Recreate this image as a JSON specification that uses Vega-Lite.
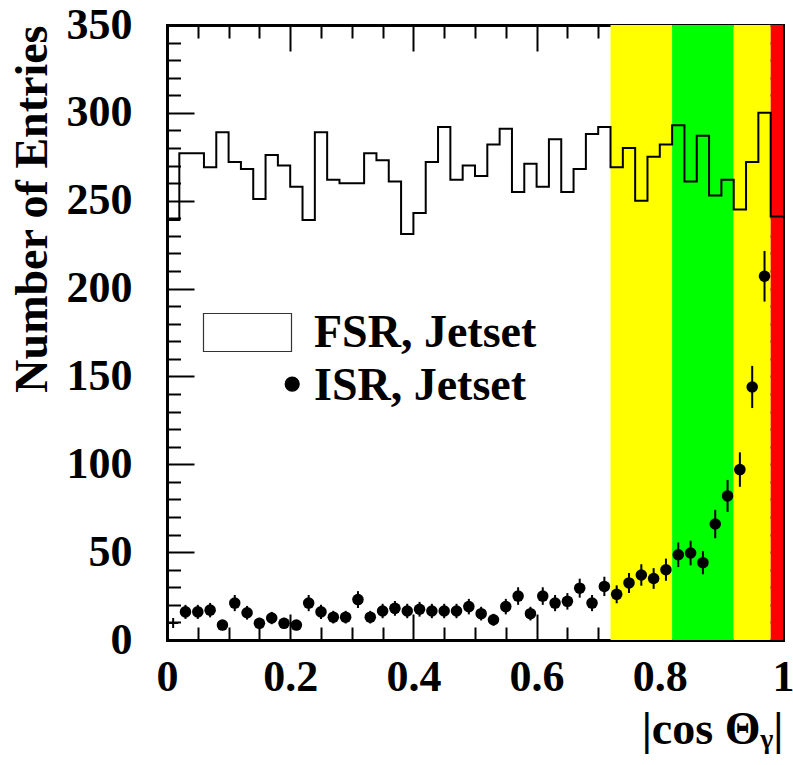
{
  "$schema": "https://vega.github.io/schema/vega-lite/v6.json",
  "width": 616,
  "height": 615,
  "autosize": {"type": "none"},
  "padding": {"left": 167, "top": 25, "right": 10, "bottom": 125},
  "background": "white",
  "config": {
    "view": {"stroke": null},
    "axis": {
      "grid": false,
      "zindex": 1,
      "tickColor": "black",
      "tickWidth": 2,
      "domainColor": "black",
      "domainWidth": 3,
      "domainCap": "square",
      "labelFont": "Liberation Serif",
      "labelFontWeight": "bold",
      "labelColor": "black",
      "titleFont": "Liberation Serif",
      "titleFontWeight": "bold",
      "titleColor": "black"
    }
  },
  "datasets": {
    "bands": [
      {"from": 0.72, "to": 0.82, "band": "y1"},
      {"from": 0.82, "to": 0.92, "band": "g"},
      {"from": 0.92, "to": 0.98, "band": "y2"},
      {"from": 0.98, "to": 1.0, "band": "r"}
    ],
    "fsr": [
      {"x": 0.00, "n": 239}, {"x": 0.02, "n": 277}, {"x": 0.04, "n": 277}, {"x": 0.06, "n": 269},
      {"x": 0.08, "n": 289}, {"x": 0.10, "n": 272}, {"x": 0.12, "n": 268}, {"x": 0.14, "n": 251},
      {"x": 0.16, "n": 276}, {"x": 0.18, "n": 270}, {"x": 0.20, "n": 258}, {"x": 0.22, "n": 239},
      {"x": 0.24, "n": 289}, {"x": 0.26, "n": 262}, {"x": 0.28, "n": 260}, {"x": 0.30, "n": 260},
      {"x": 0.32, "n": 277}, {"x": 0.34, "n": 273}, {"x": 0.36, "n": 261}, {"x": 0.38, "n": 231},
      {"x": 0.40, "n": 243}, {"x": 0.42, "n": 272}, {"x": 0.44, "n": 292}, {"x": 0.46, "n": 262},
      {"x": 0.48, "n": 270}, {"x": 0.50, "n": 264}, {"x": 0.52, "n": 282}, {"x": 0.54, "n": 291},
      {"x": 0.56, "n": 255}, {"x": 0.58, "n": 271}, {"x": 0.60, "n": 258}, {"x": 0.62, "n": 285},
      {"x": 0.64, "n": 255}, {"x": 0.66, "n": 268}, {"x": 0.68, "n": 288}, {"x": 0.70, "n": 292},
      {"x": 0.72, "n": 269}, {"x": 0.74, "n": 280}, {"x": 0.76, "n": 250}, {"x": 0.78, "n": 275},
      {"x": 0.80, "n": 282}, {"x": 0.82, "n": 293}, {"x": 0.84, "n": 261}, {"x": 0.86, "n": 287},
      {"x": 0.88, "n": 253}, {"x": 0.90, "n": 262}, {"x": 0.92, "n": 245}, {"x": 0.94, "n": 272},
      {"x": 0.96, "n": 300}, {"x": 0.98, "n": 241}, {"x": 1.00, "n": 241}
    ],
    "isr": [
      {"x": 0.03, "n": 16, "lo": 12, "hi": 20},
      {"x": 0.05, "n": 16, "lo": 12, "hi": 20},
      {"x": 0.07, "n": 17, "lo": 12.9, "hi": 21.1},
      {"x": 0.09, "n": 8.5, "lo": 5.6, "hi": 11.4},
      {"x": 0.11, "n": 21, "lo": 16.4, "hi": 25.6},
      {"x": 0.13, "n": 15.5, "lo": 11.6, "hi": 19.4},
      {"x": 0.15, "n": 9.5, "lo": 6.4, "hi": 12.6},
      {"x": 0.17, "n": 12.5, "lo": 9, "hi": 16},
      {"x": 0.19, "n": 9.5, "lo": 6.4, "hi": 12.6},
      {"x": 0.21, "n": 8.5, "lo": 5.6, "hi": 11.4},
      {"x": 0.23, "n": 21, "lo": 16.4, "hi": 25.6},
      {"x": 0.25, "n": 16, "lo": 12, "hi": 20},
      {"x": 0.27, "n": 13, "lo": 9.4, "hi": 16.6},
      {"x": 0.29, "n": 13, "lo": 9.4, "hi": 16.6},
      {"x": 0.31, "n": 23, "lo": 18.2, "hi": 27.8},
      {"x": 0.33, "n": 13, "lo": 9.4, "hi": 16.6},
      {"x": 0.35, "n": 16.5, "lo": 12.4, "hi": 20.6},
      {"x": 0.37, "n": 18, "lo": 13.8, "hi": 22.2},
      {"x": 0.39, "n": 16.5, "lo": 12.4, "hi": 20.6},
      {"x": 0.41, "n": 17.5, "lo": 13.3, "hi": 21.7},
      {"x": 0.43, "n": 16.5, "lo": 12.4, "hi": 20.6},
      {"x": 0.45, "n": 16.5, "lo": 12.4, "hi": 20.6},
      {"x": 0.47, "n": 16.5, "lo": 12.4, "hi": 20.6},
      {"x": 0.49, "n": 19, "lo": 14.6, "hi": 23.4},
      {"x": 0.51, "n": 15, "lo": 11.1, "hi": 18.9},
      {"x": 0.53, "n": 11.5, "lo": 8.1, "hi": 14.9},
      {"x": 0.55, "n": 19, "lo": 14.6, "hi": 23.4},
      {"x": 0.57, "n": 25, "lo": 20, "hi": 30},
      {"x": 0.59, "n": 15, "lo": 11.1, "hi": 18.9},
      {"x": 0.61, "n": 25, "lo": 20, "hi": 30},
      {"x": 0.63, "n": 21, "lo": 16.4, "hi": 25.6},
      {"x": 0.65, "n": 22, "lo": 17.3, "hi": 26.7},
      {"x": 0.67, "n": 29.5, "lo": 24.1, "hi": 34.9},
      {"x": 0.69, "n": 21, "lo": 16.4, "hi": 25.6},
      {"x": 0.71, "n": 30.5, "lo": 25, "hi": 36},
      {"x": 0.73, "n": 26, "lo": 20.9, "hi": 31.1},
      {"x": 0.75, "n": 32.5, "lo": 26.8, "hi": 38.2},
      {"x": 0.77, "n": 37, "lo": 30.9, "hi": 43.1},
      {"x": 0.79, "n": 35, "lo": 29.1, "hi": 40.9},
      {"x": 0.81, "n": 40, "lo": 33.7, "hi": 46.3},
      {"x": 0.83, "n": 48.5, "lo": 41.5, "hi": 55.5},
      {"x": 0.85, "n": 49.5, "lo": 42.5, "hi": 56.5},
      {"x": 0.87, "n": 44, "lo": 37.4, "hi": 50.6},
      {"x": 0.89, "n": 66, "lo": 57.9, "hi": 74.1},
      {"x": 0.91, "n": 82, "lo": 72.9, "hi": 91.1},
      {"x": 0.93, "n": 97, "lo": 87.2, "hi": 106.8},
      {"x": 0.95, "n": 144, "lo": 132, "hi": 156},
      {"x": 0.97, "n": 207, "lo": 192.6, "hi": 221.4}
    ],
    "isr0": [{"x": 0.01, "n": 9.7}],
    "legend": [{"series": "FSR, Jetset"}, {"series": "ISR, Jetset"}]
  },
  "layer": [
    {
      "data": {"name": "bands"},
      "mark": {"type": "rect"},
      "encoding": {
        "x": {"field": "from", "type": "quantitative", "scale": {"domain": [0, 1], "nice": false, "zero": false}, "axis": null},
        "x2": {"field": "to"},
        "color": {"field": "band", "type": "nominal", "scale": {"domain": ["y1", "g", "y2", "r"], "range": ["#ffff00", "#00ff00", "#ffff00", "#ff0000"]}, "legend": null}
      }
    },
    {
      "data": {"name": "fsr"},
      "mark": {"type": "line", "interpolate": "step-after", "color": "black", "strokeWidth": 2},
      "encoding": {
        "x": {"field": "x", "type": "quantitative", "scale": {"domain": [0, 1], "nice": false, "zero": false},
          "axis": {"orient": "bottom", "values": [0, 0.2, 0.4, 0.6, 0.8, 1], "format": "~g", "tickSize": -26, "domain": true,
            "labelFontSize": 44, "labelPadding": 41, "labelFlush": false, "labelOverlap": false,
            "title": "|cos Θᵧ|", "titleFontSize": 46, "titleAnchor": "end", "titlePadding": 8}},
        "y": {"field": "n", "type": "quantitative", "scale": {"domain": [0, 350], "nice": false, "zero": false},
          "axis": {"orient": "left", "values": [0, 50, 100, 150, 200, 250, 300, 350], "format": "d", "tickSize": -27, "domain": true,
            "labelFontSize": 44, "labelPadding": 62, "labelFlush": false, "labelOverlap": false,
            "title": "Number of Entries", "titleFontSize": 46, "titleAnchor": "end", "titlePadding": 10}}
      }
    },
    {
      "data": {"name": "isr"},
      "mark": {"type": "rule", "color": "black", "strokeWidth": 2},
      "encoding": {
        "x": {"field": "x", "type": "quantitative",
          "axis": {"orient": "top", "values": [0, 0.2, 0.4, 0.6, 0.8, 1], "tickSize": -26, "domain": true, "labels": false, "title": null}},
        "y": {"field": "lo", "type": "quantitative",
          "axis": {"orient": "right", "values": [0, 50, 100, 150, 200, 250, 300, 350], "tickSize": -27, "domain": true, "labels": false, "title": null}},
        "y2": {"field": "hi"}
      }
    },
    {
      "data": {"name": "isr"},
      "mark": {"type": "circle", "color": "black", "size": 133, "opacity": 1},
      "encoding": {
        "x": {"field": "x", "type": "quantitative",
          "axis": {"orient": "bottom", "values": [0.05, 0.1, 0.15, 0.25, 0.3, 0.35, 0.45, 0.5, 0.55, 0.65, 0.7, 0.75, 0.85, 0.9, 0.95], "tickSize": -13, "domain": false, "labels": false, "title": null}},
        "y": {"field": "n", "type": "quantitative",
          "axis": {"orient": "left", "values": [10, 20, 30, 40, 60, 70, 80, 90, 110, 120, 130, 140, 160, 170, 180, 190, 210, 220, 230, 240, 260, 270, 280, 290, 310, 320, 330, 340], "tickSize": -13.5, "domain": false, "labels": false, "title": null}}
      }
    },
    {
      "data": {"name": "isr0"},
      "mark": {"type": "point", "shape": "M-1,0H1M0,-1V1", "size": 100, "color": "black", "strokeWidth": 2, "filled": false, "opacity": 1},
      "encoding": {
        "x": {"field": "x", "type": "quantitative",
          "axis": {"orient": "top", "values": [0.05, 0.1, 0.15, 0.25, 0.3, 0.35, 0.45, 0.5, 0.55, 0.65, 0.7, 0.75, 0.85, 0.9, 0.95], "tickSize": -13, "domain": false, "labels": false, "title": null}},
        "y": {"field": "n", "type": "quantitative",
          "axis": {"orient": "right", "values": [10, 20, 30, 40, 60, 70, 80, 90, 110, 120, 130, 140, 160, 170, 180, 190, 210, 220, 230, 240, 260, 270, 280, 290, 310, 320, 330, 340], "tickSize": -13.5, "domain": false, "labels": false, "title": null}}
      }
    },
    {
      "data": {"name": "legend"},
      "transform": [{"filter": "false"}],
      "mark": {"type": "point", "opacity": 1},
      "encoding": {
        "shape": {"field": "series", "type": "nominal",
          "scale": {"domain": ["FSR, Jetset", "ISR, Jetset"], "range": ["M-1.544,-0.667H1.544V0.667H-1.544Z", "M1.322,-0.05A0.246,0.246 0 1,0 1.814,-0.05A0.246,0.246 0 1,0 1.322,-0.05Z"]},
          "legend": {"orient": "none", "legendX": 51, "legendY": 278, "title": null, "padding": 0, "rowPadding": 0,
            "symbolSize": 3249, "symbolStrokeWidth": 1.2, "labelFont": "Liberation Serif", "labelFontWeight": "bold",
            "labelFontSize": 46, "labelColor": "black", "labelOffset": 37, "labelLimit": 500}},
        "fill": {"field": "series", "type": "nominal", "scale": {"domain": ["FSR, Jetset", "ISR, Jetset"], "range": ["white", "black"]},
          "legend": {"orient": "none", "legendX": 51, "legendY": 278, "title": null, "padding": 0, "rowPadding": 0,
            "symbolSize": 3249, "symbolStrokeWidth": 1.2, "labelFont": "Liberation Serif", "labelFontWeight": "bold",
            "labelFontSize": 46, "labelColor": "black", "labelOffset": 37, "labelLimit": 500}},
        "stroke": {"field": "series", "type": "nominal", "scale": {"domain": ["FSR, Jetset", "ISR, Jetset"], "range": ["#333333", "black"]},
          "legend": {"orient": "none", "legendX": 51, "legendY": 278, "title": null, "padding": 0, "rowPadding": 0,
            "symbolSize": 3249, "symbolStrokeWidth": 1.2, "labelFont": "Liberation Serif", "labelFontWeight": "bold",
            "labelFontSize": 46, "labelColor": "black", "labelOffset": 37, "labelLimit": 500}}
      }
    }
  ],
  "resolve": {"axis": {"x": "independent", "y": "independent"}}
}
